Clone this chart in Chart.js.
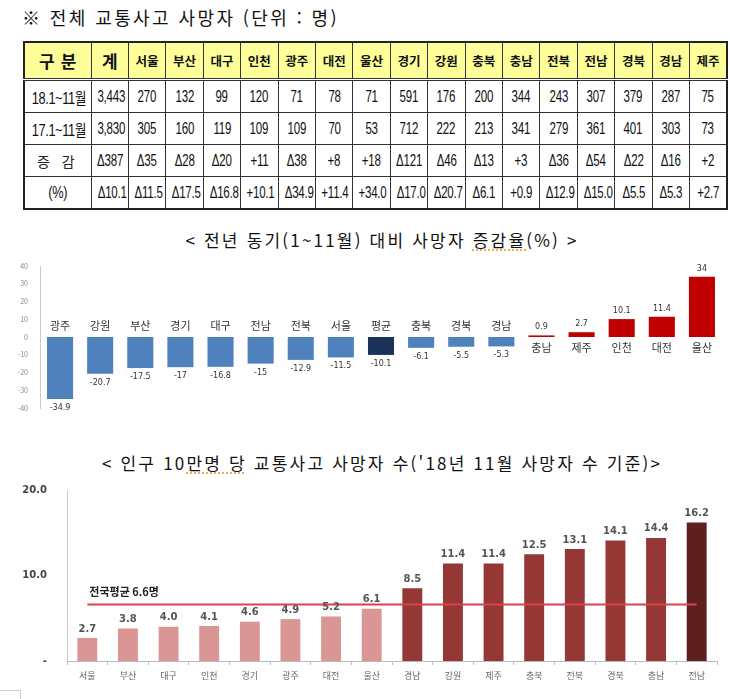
<!DOCTYPE html>
<html lang="ko">
<head>
<meta charset="utf-8">
<script src="https://cdn.jsdelivr.net/npm/chart.js@4.4.1/dist/chart.umd.min.js"></script>
<style>
  html, body { margin: 0; padding: 0; background: #fff; }
  body { width: 730px; height: 699px; position: relative; overflow: hidden; font-family: "Noto Sans CJK KR", "Noto Sans", sans-serif; color: #111; }
  .title { position: absolute; white-space: nowrap; font-size: 18px; line-height: 22px; color: #111; }
  #t0 { left: 22px; top: 6px; letter-spacing: 2.4px; }
  #t1 { left: 0; width: 730px; text-align: center; top: 229px; font-size: 17px; letter-spacing: 2.2px; margin-left: 17px; }
  #t2 { left: 0; width: 730px; text-align: center; top: 452px; font-size: 17px; letter-spacing: 2.2px; margin-left: 17px; }
  .sp { text-decoration: underline dotted #E8A040; text-underline-offset: 3px; }
  #tbl { position: absolute; left: 23px; top: 41px; width: 705px; border-collapse: collapse; table-layout: fixed; border: 2px solid #222; }
  #tbl td, #tbl th { border: 1px solid #333; text-align: center; padding: 0; overflow: hidden; white-space: nowrap; }
  #tbl th { background: #FFFF99; height: 35px; font-size: 12.5px; font-weight: bold; color: #111; border-bottom: 3px double #333; }
  #tbl th.big { font-size: 17px; }
  #tbl th.gb { letter-spacing: 6px; padding-left: 6px; }
  #tbl td { height: 31px; font-family: "Liberation Sans", "Noto Sans CJK KR", sans-serif; font-size: 16px; color: #111; }
  #tbl td span { display: inline-block; transform: scaleX(0.72); transform-origin: center; letter-spacing: -0.3px; }
  #tbl td.lab span { font-size: 16px; transform: scaleX(0.8); letter-spacing: -0.5px; }
  #tbl td.lab.ko span { font-family: "Noto Sans CJK KR", sans-serif; font-size: 14px; transform: none; letter-spacing: 4px; color: #222; }
  canvas { position: absolute; left: 0; }
  #c1 { top: 250px; }
  #c2 { top: 470px; }
  #box { position: absolute; left: -1px; top: 690px; width: 20px; height: 12px; border: 1px solid #ccc; }
</style>
</head>
<body>
<div id="t0" class="title">※ 전체 교통사고 사망자 (단위 : 명)</div>
<table id="tbl"></table>
<div id="t1" class="title">&lt; 전년 동기(1~11월) 대비 사망자 <span class="sp">증감율</span>(%) &gt;</div>
<canvas id="c1" width="730" height="175"></canvas>
<div id="t2" class="title">&lt; 인구 10<span class="sp">만명 당</span> 교통사고 사망자 수('18년 11월 사망자 수 기준)&gt;</div>
<canvas id="c2" width="730" height="215"></canvas>
<div id="box"></div>
<script>
// ---------- Table data ----------
const tableHeaders = ['계','서울','부산','대구','인천','광주','대전','울산','경기','강원','충북','충남','전북','전남','경북','경남','제주'];
const rowLabels = ['18.1~11월','17.1~11월','증 감','(%)'];
const deaths2018 = [3443,270,132,99,120,71,78,71,591,176,200,344,243,307,379,287,75];
const deaths2017 = [3830,305,160,119,109,109,70,53,712,222,213,341,279,361,401,303,73];
const deathDiff  = [-387,-35,-28,-20,11,-38,8,18,-121,-46,-13,3,-36,-54,-22,-16,2];
const deathPct   = [-10.1,-11.5,-17.5,-16.8,10.1,-34.9,11.4,34.0,-17.0,-20.7,-6.1,0.9,-12.9,-15.0,-5.5,-5.3,2.7];

// ---------- Chart 1 data ----------
const rateRegions = ['광주','강원','부산','경기','대구','전남','전북','서울','평균','충북','경북','경남','충남','제주','인천','대전','울산'];
const rateValues  = [-34.9,-20.7,-17.5,-17,-16.8,-15,-12.9,-11.5,-10.1,-6.1,-5.5,-5.3,0.9,2.7,10.1,11.4,34];
const rateTicks   = [-40,-30,-20,-10,0,10,20,30,40];
const avgCategory = '평균';

// ---------- Chart 2 data ----------
const popRegions = ['서울','부산','대구','인천','경기','광주','대전','울산','경남','강원','제주','충북','전북','경북','충남','전남'];
const popValues  = [2.7,3.8,4.0,4.1,4.6,4.9,5.2,6.1,8.5,11.4,11.4,12.5,13.1,14.1,14.4,16.2];
const popTickLabels = ['-','10.0','20.0'];
const nationalAvg = 6.6;
const nationalAvgLabel = '전국평균 6.6명';

// ---------- Build table ----------
(function(){
  const tbl = document.getElementById('tbl');
  const fmtInt = v => v.toLocaleString('en-US');
  const fmtDiff = v => v < 0 ? 'Δ' + Math.abs(v) : '+' + v;
  const fmtPct = v => v < 0 ? 'Δ' + Math.abs(v).toFixed(1) : '+' + v.toFixed(1);
  let cg = '<colgroup><col style="width:67px">';
  tableHeaders.forEach(() => cg += '<col>');
  cg += '</colgroup>';
  let h = cg + '<tr><th class="big gb">구분</th>';
  tableHeaders.forEach((t, i) => h += '<th' + (i === 0 ? ' class="big"' : '') + '>' + t + '</th>');
  h += '</tr>';
  const rows = [deaths2018.map(fmtInt), deaths2017.map(fmtInt), deathDiff.map(fmtDiff), deathPct.map(fmtPct)];
  rows.forEach((r, ri) => {
    const ko = ri === 2 ? ' ko' : '';
    h += '<tr><td class="lab' + ko + '"><span>' + rowLabels[ri] + '</span></td>';
    r.forEach(c => h += '<td><span>' + c + '</span></td>');
    h += '</tr>';
  });
  tbl.innerHTML = h;
})();

Chart.defaults.font.family = '"Noto Sans CJK KR", "Noto Sans", sans-serif';
Chart.defaults.animation = false;

// ---------- Chart 1 ----------
const rateColors = rateValues.map((v, i) => rateRegions[i] === avgCategory ? '#1B3358' : (v < 0 ? '#4F81BD' : '#C00000'));
const labelPlugin1 = {
  id: 'labels1',
  afterDatasetsDraw(chart) {
    const ctx = chart.ctx;
    const meta = chart.getDatasetMeta(0);
    const y0 = chart.scales.y.getPixelForValue(0);
    ctx.save();
    ctx.textAlign = 'center';
    ctx.fillStyle = '#333';
    meta.data.forEach((bar, i) => {
      const v = rateValues[i];
      ctx.font = '11px "Noto Sans CJK KR"';
      ctx.textBaseline = 'middle';
      if (v < 0) {
        ctx.fillText(rateRegions[i], bar.x, y0 - 11);
        ctx.font = '8px "DejaVu Sans"';
        ctx.fillText(String(v), bar.x, bar.y + 9);
      } else {
        ctx.fillText(rateRegions[i], bar.x, y0 + 11);
        ctx.font = '8px "DejaVu Sans"';
        ctx.fillText(String(v), bar.x, bar.y - 8);
      }
    });
    ctx.restore();
  }
};
new Chart(document.getElementById('c1'), {
  type: 'bar',
  data: { labels: rateRegions, datasets: [{ data: rateValues, backgroundColor: rateColors, borderWidth: 0, categoryPercentage: 1, barPercentage: 0.65 }] },
  options: {
    responsive: false, devicePixelRatio: 1,
    layout: { padding: { top: 16, bottom: 17, right: 8, left: 0 } },
    plugins: { legend: { display: false }, tooltip: { enabled: false } },
    scales: {
      x: { display: false },
      y: {
        min: -40, max: 40,
        afterFit: a => { a.width = 40; },
        afterBuildTicks: a => { a.ticks = rateTicks.map(v => ({ value: v })); },
        grid: { display: false },
        border: { display: true, color: '#c8c8c8', width: 1 },
        ticks: { color: '#8a8a8a', font: { size: 7 }, padding: 4 }
      }
    }
  },
  plugins: [labelPlugin1]
});

// ---------- Chart 2 ----------
const popMax = Math.max(...popValues);
const popColors = popValues.map(v => v === popMax ? '#5E1F1F' : (v < nationalAvg ? '#D99694' : '#953735'));
const avgLine = popRegions.map(() => nationalAvg);
const labelPlugin2 = {
  id: 'labels2',
  afterDatasetsDraw(chart) {
    const ctx = chart.ctx;
    const meta = chart.getDatasetMeta(0);
    ctx.save();
    ctx.textAlign = 'center';
    ctx.textBaseline = 'middle';
    ctx.fillStyle = '#555';
    ctx.font = 'bold 10px "DejaVu Sans"';
    meta.data.forEach((bar, i) => {
      ctx.fillText(popValues[i].toFixed(1), bar.x, bar.y - 9);
    });
    const x0 = chart.scales.x.getPixelForValue(0);
    const yA = chart.scales.y.getPixelForValue(nationalAvg);
    ctx.textAlign = 'left';
    ctx.fillStyle = '#222';
    ctx.font = 'bold 11px "Noto Sans CJK KR"';
    ctx.fillText(nationalAvgLabel, x0 + 2, yA - 13);
    ctx.restore();
  }
};
new Chart(document.getElementById('c2'), {
  data: {
    labels: popRegions,
    datasets: [
      { type: 'bar', data: popValues, backgroundColor: popColors, borderWidth: 0, categoryPercentage: 1, barPercentage: 0.49, order: 1 },
      { type: 'line', data: avgLine, borderColor: '#D9434E', borderWidth: 2, pointRadius: 0, fill: false, order: 0 }
    ]
  },
  options: {
    responsive: false, devicePixelRatio: 1,
    layout: { padding: { top: 20, bottom: 0, right: 13, left: 0 } },
    plugins: { legend: { display: false }, tooltip: { enabled: false } },
    scales: {
      x: {
        afterFit: a => { a.height = 24; },
        grid: { display: true, drawOnChartArea: false, drawTicks: true, tickLength: 4, color: '#bbbbbb', offset: true },
        border: { display: true, color: '#bbbbbb', width: 1 },
        ticks: { color: '#666', font: { size: 9 }, padding: 5, maxRotation: 0, autoSkip: false }
      },
      y: {
        min: 0, max: 20,
        afterFit: a => { a.width = 67; },
        afterBuildTicks: a => { a.ticks = [0, 10, 20].map(v => ({ value: v })); },
        grid: { display: false },
        border: { display: true, color: '#c8c8c8', width: 1 },
        ticks: { color: '#444', font: { size: 10, weight: 'bold', family: '"DejaVu Sans"' }, padding: 12,
                 callback: (v, i) => popTickLabels[i] }
      }
    }
  },
  plugins: [labelPlugin2]
});
</script>
</body>
</html>
